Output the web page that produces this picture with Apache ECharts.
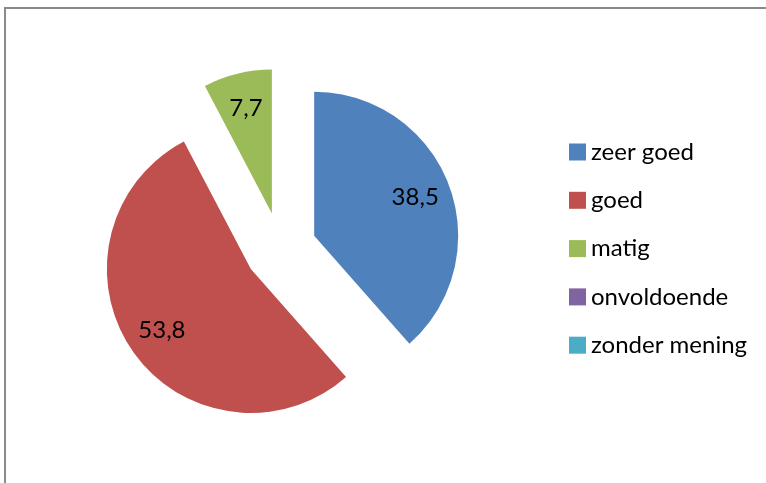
<!DOCTYPE html>
<html>
<head>
<meta charset="utf-8">
<script src="https://cdn.jsdelivr.net/npm/echarts@6/dist/echarts.min.js"></script>
<style>
    html, body { margin: 0; padding: 0; background: #fff; overflow: hidden; }
    #chart { position: absolute; left: 0; top: 0; width: 766px; height: 483px; }
    .frame {
        position: absolute; left: 4px; top: 7px; width: 800px; height: 520px;
        border-left: 2px solid #8a8a8a; border-top: 2px solid #8a8a8a;
        pointer-events: none;
    }
</style>
</head>
<body>
<div id="chart"></div>
<div class="frame"></div>
<script>
const categories = ["zeer goed", "goed", "matig", "onvoldoende", "zonder mening"];
const values = [38.5, 53.8, 7.7, 0, 0];
const colors = ["#4F81BD", "#C0504D", "#9BBB59", "#8064A2", "#4BACC6"];

const fontFamily = "Lato, 'Open Sans', sans-serif";
const pieCenter = [280.5, 248.5];
const pieRadius = 144;
const explode = 36;

const fmt = (v) => v.toFixed(1).replace(".", ",");

const chart = echarts.init(document.getElementById("chart"));

// visible slices (all exploded)
const sliceData = categories.map((name, i) => ({
    name: name,
    value: values[i],
    selected: true,
    itemStyle: { color: colors[i] },
}));

// invisible wider pie that only carries the labels, so they sit further out like Excel
const labelData = categories.map((name, i) => ({
    name: name,
    value: values[i],
    selected: true,
    itemStyle: { color: "rgba(0,0,0,0)" },
    label: { show: values[i] > 0 },
}));

chart.setOption({
    animation: false,
    color: colors,
    legend: {
        orient: "vertical",
        left: 569,
        top: 140,
        padding: 0,
        itemWidth: 17,
        itemHeight: 17,
        itemGap: 24.3,
        icon: "rect",
        textStyle: { fontFamily: fontFamily, fontSize: 24, color: "#000" },
        data: categories.map((name, i) => ({ name: name, itemStyle: { color: colors[i], opacity: 1 } })),
    },
    series: [
        {
            type: "pie",
            center: pieCenter,
            radius: pieRadius,
            startAngle: 90,
            clockwise: true,
            selectedMode: "multiple",
            selectedOffset: explode,
            label: { show: false },
            labelLine: { show: false },
            emphasis: { scale: false },
            select: { itemStyle: { borderWidth: 0 } },
            data: sliceData,
        },
        {
            type: "pie",
            silent: true,
            center: pieCenter,
            radius: 210,
            startAngle: 90,
            clockwise: true,
            selectedMode: "multiple",
            selectedOffset: explode,
            z: 3,
            label: {
                position: "inside",
                fontFamily: fontFamily,
                fontSize: 24,
                color: "#000",
                formatter: (p) => fmt(p.value),
            },
            labelLine: { show: false },
            emphasis: { disabled: true },
            select: { itemStyle: { borderWidth: 0 } },
            data: labelData,
        },
    ],
});
</script>
</body>
</html>
